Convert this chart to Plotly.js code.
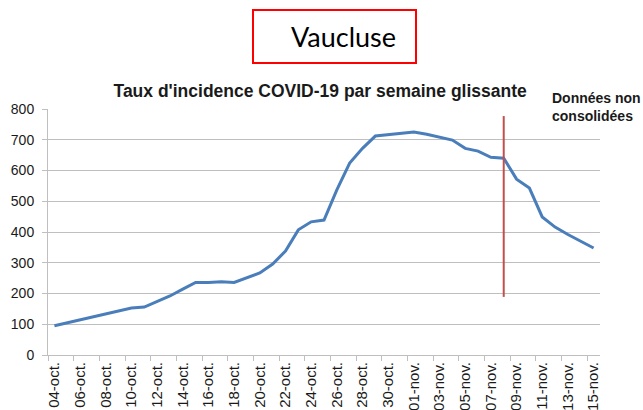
<!DOCTYPE html>
<html>
<head>
<meta charset="utf-8">
<script src="https://cdn.plot.ly/plotly-3.0.1.min.js"></script>
<style>
  html, body { margin: 0; padding: 0; background: #fff; }
  #chart { width: 643px; height: 410px; }
</style>
</head>
<body>
<div id="chart"></div>
<script>
// ---- data ----
const days = [
  '04-oct.','05-oct.','06-oct.','07-oct.','08-oct.','09-oct.','10-oct.','11-oct.','12-oct.','13-oct.',
  '14-oct.','15-oct.','16-oct.','17-oct.','18-oct.','19-oct.','20-oct.','21-oct.','22-oct.','23-oct.',
  '24-oct.','25-oct.','26-oct.','27-oct.','28-oct.','29-oct.','30-oct.','31-oct.','01-nov.','02-nov.',
  '03-nov.','04-nov.','05-nov.','06-nov.','07-nov.','08-nov.','09-nov.','10-nov.','11-nov.','12-nov.',
  '13-nov.','14-nov.','15-nov.'
];
const incidence = [
  95, 105, 115, 125, 135, 145, 153, 156, 173, 192,
  214, 236, 236, 238, 236, 252, 267, 296, 338, 407,
  433, 439, 537, 624, 672, 712, 717, 722, 725, 718,
  708, 699, 672, 663, 643, 640, 572, 543, 449, 416,
  392, 370, 348
];
const yTicks = [0, 100, 200, 300, 400, 500, 600, 700, 800];
const consolidationDate = '08-nov.';
const consolidationRange = [189, 777];
const chartTitle = "Taux d'incidence COVID-19 par semaine glissante";
const noteText = 'Données non<br>consolidées';
const boxText = 'Vaucluse';

const gridGray = '#bfbfbf';
const cIdx = days.indexOf(consolidationDate);

const trace = {
  type: 'scatter',
  mode: 'lines',
  x: days,
  y: incidence,
  line: { color: '#4a7ebb', width: 3 },
  hoverinfo: 'x+y',
  showlegend: false
};

const layout = {
  width: 643,
  height: 410,
  paper_bgcolor: '#ffffff',
  plot_bgcolor: '#ffffff',
  margin: { l: 48, r: 43, t: 109, b: 55 },
  font: { family: 'Liberation Sans, Arial, sans-serif', color: '#1a1a1a' },
  title: {
    text: '<b>' + chartTitle + '</b>',
    font: { family: 'Liberation Sans, Arial, sans-serif', size: 17.5, color: '#1a1a1a' },
    x: 317 / 643, xref: 'paper', xanchor: 'center',
    y: 1 - 97 / 410, yref: 'container', yanchor: 'bottom'
  },
  xaxis: {
    type: 'category',
    range: [-0.5, days.length - 0.5],
    tickmode: 'linear', tick0: 0, dtick: 2,
    tickson: 'boundaries',
    ticks: 'outside', ticklen: 5, tickcolor: gridGray, tickwidth: 1,
    tickangle: -90,
    tickfont: { size: 15, color: '#1a1a1a' },
    showline: true, linecolor: gridGray, linewidth: 1,
    showgrid: false, zeroline: false,
    fixedrange: true
  },
  yaxis: {
    range: [0, 800],
    tickmode: 'array', tickvals: yTicks, ticktext: yTicks.map(String),
    ticks: 'outside', ticklen: 5, tickcolor: gridGray, tickwidth: 1,
    ticklabelstandoff: 5,
    tickfont: { size: 14, color: '#1a1a1a' },
    showline: true, linecolor: gridGray, linewidth: 1,
    showgrid: true, gridcolor: gridGray, gridwidth: 1,
    zeroline: false,
    fixedrange: true
  },
  shapes: [
    {
      type: 'line', xref: 'x', yref: 'y',
      x0: cIdx, x1: cIdx, y0: consolidationRange[0], y1: consolidationRange[1],
      line: { color: '#c0504d', width: 2 }
    },
    {
      type: 'rect', xref: 'paper', yref: 'paper',
      x0: (253 - 48) / 552, x1: (416 - 48) / 552,
      y0: (355 - 63) / 246, y1: (355 - 10) / 246,
      line: { color: '#ff0000', width: 2 },
      fillcolor: 'rgba(0,0,0,0)'
    }
  ],
  annotations: [
    {
      text: '<b>' + noteText + '</b>',
      xref: 'paper', yref: 'paper',
      x: (550 - 48) / 552, y: (355 - 88) / 246,
      xanchor: 'left', yanchor: 'top', align: 'left',
      showarrow: false,
      font: { family: 'Liberation Sans, Arial, sans-serif', size: 14, color: '#1a1a1a' }
    },
    {
      text: boxText,
      xref: 'paper', yref: 'paper',
      x: (343 - 48) / 552, y: (355 - 37) / 246,
      xanchor: 'center', yanchor: 'middle',
      showarrow: false,
      font: { family: 'Lato, sans-serif', size: 27, color: '#000000' }
    }
  ]
};

Plotly.newPlot('chart', [trace], layout, { staticPlot: true, displayModeBar: false });
</script>
</body>
</html>
